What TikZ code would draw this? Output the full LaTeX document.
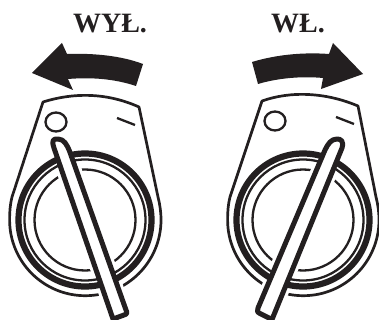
\documentclass[tikz,border=0pt]{standalone}
\usepackage{fontspec}
\setmainfont{Liberation Serif}
\definecolor{ink}{HTML}{231F20}
\tikzset{
  x=1pt,y=-1pt,
  caption/.style={font=\bfseries\fontsize{28}{28}\selectfont,text=ink,inner sep=0pt,anchor=base},
  shell/.style={draw=ink,line width=2.7pt,line join=round,fill=white},
  thickring/.style={draw=ink,line width=6.2pt},
  thinring/.style={draw=ink,line width=2.3pt},
  lever/.style={draw=ink,line width=5pt,line join=round,fill=white},
  halo/.style={draw=white,line width=11pt,line join=round},
  tick/.style={draw=ink,line width=2.3pt},
  bigarrow/.style={fill=ink,draw=none}
}
\newcommand{\leftlever}{(113,319) -- (54,148) .. controls (51,139) and (54,139) .. (58,139) .. controls (64,139) and (67,145) .. (69.5,151) -- (126,310) .. controls (127.5,313) and (127,314) .. (124,315) -- cycle}
\newcommand{\rightlever}{(272,319.5) -- (342,148) .. controls (344,141) and (341,139) .. (337,139) .. controls (331,139) and (328,144) .. (325,150) -- (258,308) .. controls (257,311) and (257,312) .. (260,313.5) -- cycle}
\begin{document}
\begin{tikzpicture}
\useasboundingbox (0,0) rectangle (379,320);
\fill[white] (0,0) rectangle (379,320);
\node[caption] (off) at (110,33) {WYŁ.};
\node[caption] (on) at (298,33) {WŁ.};
% left arrow
\fill[bigarrow] (32,73) -- (62,43) -- (67,54) .. controls (95,53) and (122,56) .. (143,64) -- (136,86) .. controls (115,79) and (92,77) .. (68,79) -- (73,90) -- cycle;
% right arrow
\fill[bigarrow] (363,74) -- (333,43) -- (329,54) .. controls (302,52) and (275,55) .. (252,62) -- (258,84) .. controls (278,78) and (302,76) .. (323,78) -- (321,89) -- cycle;
% left switch
\draw[shell] (43,102) .. controls (75,92) and (108,93) .. (139,107) -- (158,197) .. controls (160,205) and (161,212) .. (161,220) arc[start angle=0,end angle=180,x radius=75.7,y radius=75.7] .. controls (9.6,212) and (10,205) .. (12,197) -- cycle;
\draw[thinring] (56,122) ellipse[x radius=10.5,y radius=9.5];
\draw[tick] (117,118) -- (135,125);
\draw[thinring] (85,220) circle[radius=50.5];
\draw[halo] \leftlever;
\draw[thickring] (85,220) circle[radius=66.5];
\draw[thinring] (85,220) circle[radius=60.5];
\draw[lever] \leftlever;
% right switch
\draw[shell] (262,101) .. controls (290,91) and (325,92) .. (358,106) -- (376,197) .. controls (378,205) and (379,212) .. (379,220) arc[start angle=0,end angle=180,x radius=75.7,y radius=75.7] .. controls (227.6,212) and (228,205) .. (230,197) -- cycle;
\draw[thinring] (275,121) ellipse[x radius=10.5,y radius=9.5];
\draw[tick] (336,117) -- (354,124);
\draw[thinring] (303,220) circle[radius=50.5];
\draw[halo] \rightlever;
\draw[thickring] (303,220) circle[radius=66.5];
\draw[thinring] (303,220) circle[radius=60.5];
\draw[lever] \rightlever;
\end{tikzpicture}
\end{document}
